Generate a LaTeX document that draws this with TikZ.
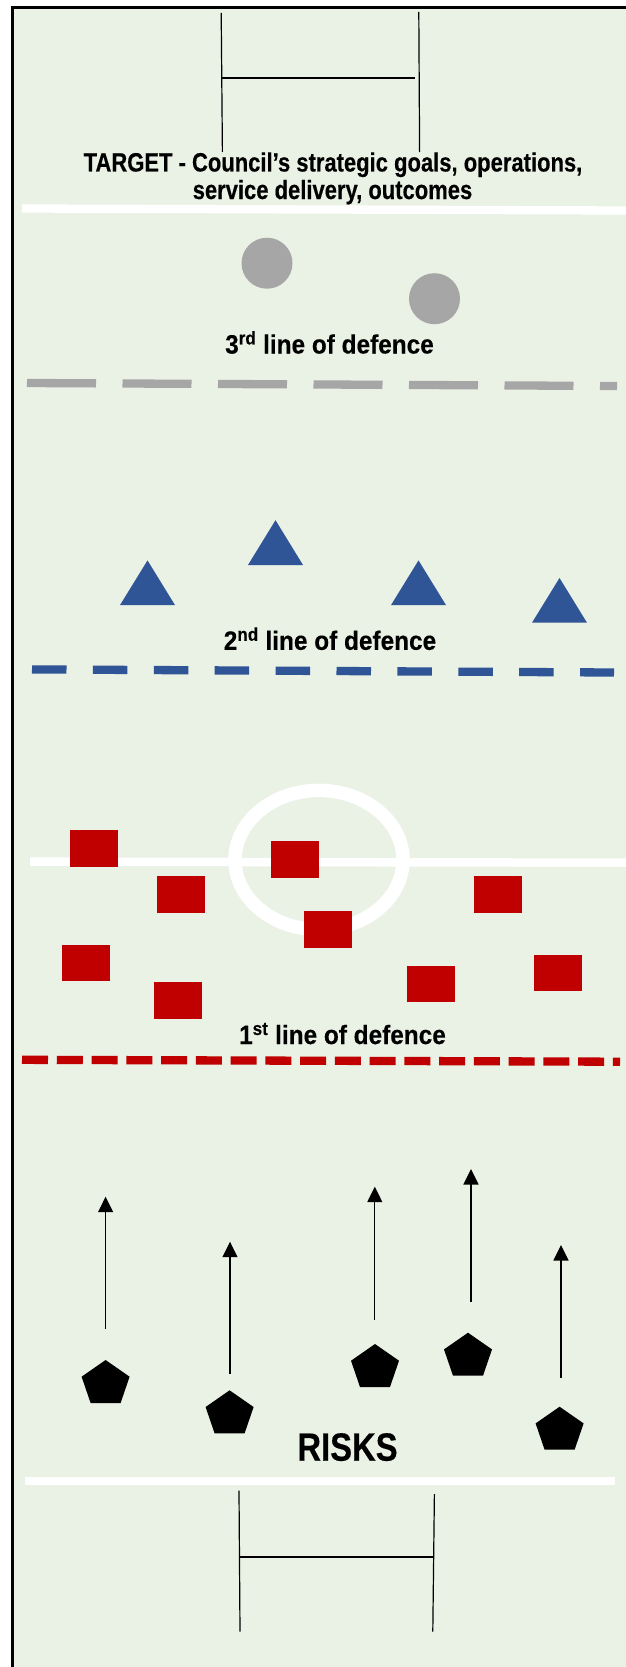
\documentclass[tikz,border=0pt]{standalone}
\usepackage{fontspec}
\setmainfont{Liberation Sans}
\newfontfamily\deffont{Liberation Sans}[FakeStretch=0.92, BoldFeatures={FakeBold=0.3}]
\newfontfamily\tgtfont{Liberation Sans}[FakeStretch=0.83, BoldFeatures={FakeBold=0.3}]
\newfontfamily\riskfont{Liberation Sans}[FakeStretch=0.83, BoldFeatures={FakeBold=0.3}]
\usetikzlibrary{arrows.meta}
\definecolor{bggreen}{HTML}{EAF1E5}
\definecolor{grayball}{HTML}{A6A6A6}
\definecolor{bluetri}{HTML}{2F5597}
\definecolor{redsq}{HTML}{C00000}
\tikzset{
  frameline/.style={line width=2.7pt, black, line join=miter},
  goalpost/.style={line width=1.2pt, black},
  whiteline/.style={line width=8.3pt, white},
  graydash/.style={line width=8.3pt, grayball, dash pattern=on 69pt off 26.5pt},
  bluedash/.style={line width=8.3pt, bluetri, dash pattern=on 34.5pt off 26.4pt},
  reddash/.style={line width=8.3pt, redsq, dash pattern=on 26pt off 8.76pt},
  ballstyle/.style={fill=grayball},
  tristyle/.style={fill=bluetri},
  sqstyle/.style={fill=redsq},
  pentstyle/.style={fill=black},
  riskarrow/.style={line width=1.2pt, black, -{Triangle[length=15.5pt,width=15pt]}},
  deflabel/.style={inner sep=0pt, anchor=base, font=\deffont\bfseries\fontsize{26.5}{30}\selectfont},
  tgtlabel/.style={inner sep=0pt, anchor=base, font=\tgtfont\bfseries\fontsize{26.5}{30}\selectfont},
  risklabel/.style={inner sep=0pt, anchor=base, font=\riskfont\bfseries\fontsize{39.5}{44}\selectfont}
}
\begin{document}
\begin{tikzpicture}[x=1pt,y=-1pt]
\useasboundingbox (0,0) rectangle (626,1667);
\fill[white] (0,0) rectangle (626,1667);
\fill[bggreen] (12.7,7.3) rectangle (626,1667);
\draw[frameline] (12.7,1667) -- (12.7,7.3) -- (626,7.3);

% top goal posts
\coordinate (tgl1) at (221.2,13); \coordinate (tgl2) at (222.4,152);
\coordinate (tgr1) at (418.8,12); \coordinate (tgr2) at (419.6,152);
\coordinate (tgc1) at (222,78); \coordinate (tgc2) at (415,78);
\draw[goalpost] (tgl1) -- (tgl2);
\draw[goalpost] (tgr1) -- (tgr2);
\draw[goalpost] (tgc1) -- (tgc2);

% target text
\node[tgtlabel] (target1) at (333,171.5) {TARGET - Council’s strategic goals, operations,};
\node[tgtlabel] (target2) at (332.5,199) {service delivery, outcomes};

% white line below target
\draw[whiteline] (22,208.5) -- (626,210.5);

% 3rd line
\fill[ballstyle] (267,263.2) circle (25.5);
\fill[ballstyle] (434.5,298.7) circle (25.5);
\node[deflabel] (l3) at (329.5,353.5) {3\textsuperscript{rd} line of defence};
\draw[graydash] (27,383) -- (617,386);

% 2nd line
\foreach \ax/\ay/\by in {147.5/560.4/605.1, 275.5/520.2/565, 418.5/560.4/605.1, 559.5/578/622.7}{
  \fill[tristyle] (\ax,\ay) -- (\ax+27.5,\by) -- (\ax-27.5,\by) -- cycle;
}
\node[deflabel] (l2) at (330,649.8) {2\textsuperscript{nd} line of defence};
\draw[bluedash] (32,669.4) -- (614,672.5);

% centre line and circle
\draw[line width=8.5pt, white] (30,861.6) -- (626,862.7);
\draw[line width=13.5pt, white] (319,860) ellipse [x radius=84, y radius=69.6];

% 1st line squares
\foreach \xa/\ya/\xb/\yb in {70.4/830.2/118.4/866.5, 157/876/205/912.8, 271/841/319/877.6,
  304/911/352/947.7, 474/876/522/912.8, 62.4/945/110.4/981, 154/982/201.6/1018.5,
  407/966/455/1002, 534/954.6/581.6/990.5}{
  \fill[sqstyle] (\xa,\ya) rectangle (\xb,\yb);
}
\node[deflabel] (l1) at (342.5,1044) {1\textsuperscript{st} line of defence};
\draw[reddash] (22,1059.8) -- (620,1061.7);

% risk arrows
\foreach \i/\ax/\ab/\at in {1/105.6/1329/1196.7, 2/230/1374/1241.7, 3/374.8/1320/1186.7,
  4/471/1301.7/1169, 5/561/1377.7/1245}{
  \coordinate (as\i) at (\ax,\ab);
  \coordinate (ae\i) at (\ax,\at);
  \draw[riskarrow] (as\i) -- (ae\i);
}

% pentagons
\foreach \cx/\ty in {105.6/1360, 229.6/1390.3, 375/1344, 468/1332.7, 559.6/1406.7}{
  \fill[pentstyle] (\cx,\ty) -- (\cx+24,\ty+16.7) -- (\cx+15,\ty+43) -- (\cx-15,\ty+43) -- (\cx-24,\ty+16.7) -- cycle;
}

\node[risklabel] (risks) at (347.5,1460.7) {RISKS};

% white line bottom
\draw[whiteline] (25,1481) -- (615,1481);

% bottom goal posts
\coordinate (bgl1) at (239,1490.7); \coordinate (bgl2) at (240,1631.7);
\coordinate (bgr1) at (434.4,1494); \coordinate (bgr2) at (432.8,1631.7);
\coordinate (bgc1) at (240,1557); \coordinate (bgc2) at (433.2,1557);
\draw[goalpost] (bgl1) -- (bgl2);
\draw[goalpost] (bgr1) -- (bgr2);
\draw[goalpost] (bgc1) -- (bgc2);
\end{tikzpicture}
\end{document}
